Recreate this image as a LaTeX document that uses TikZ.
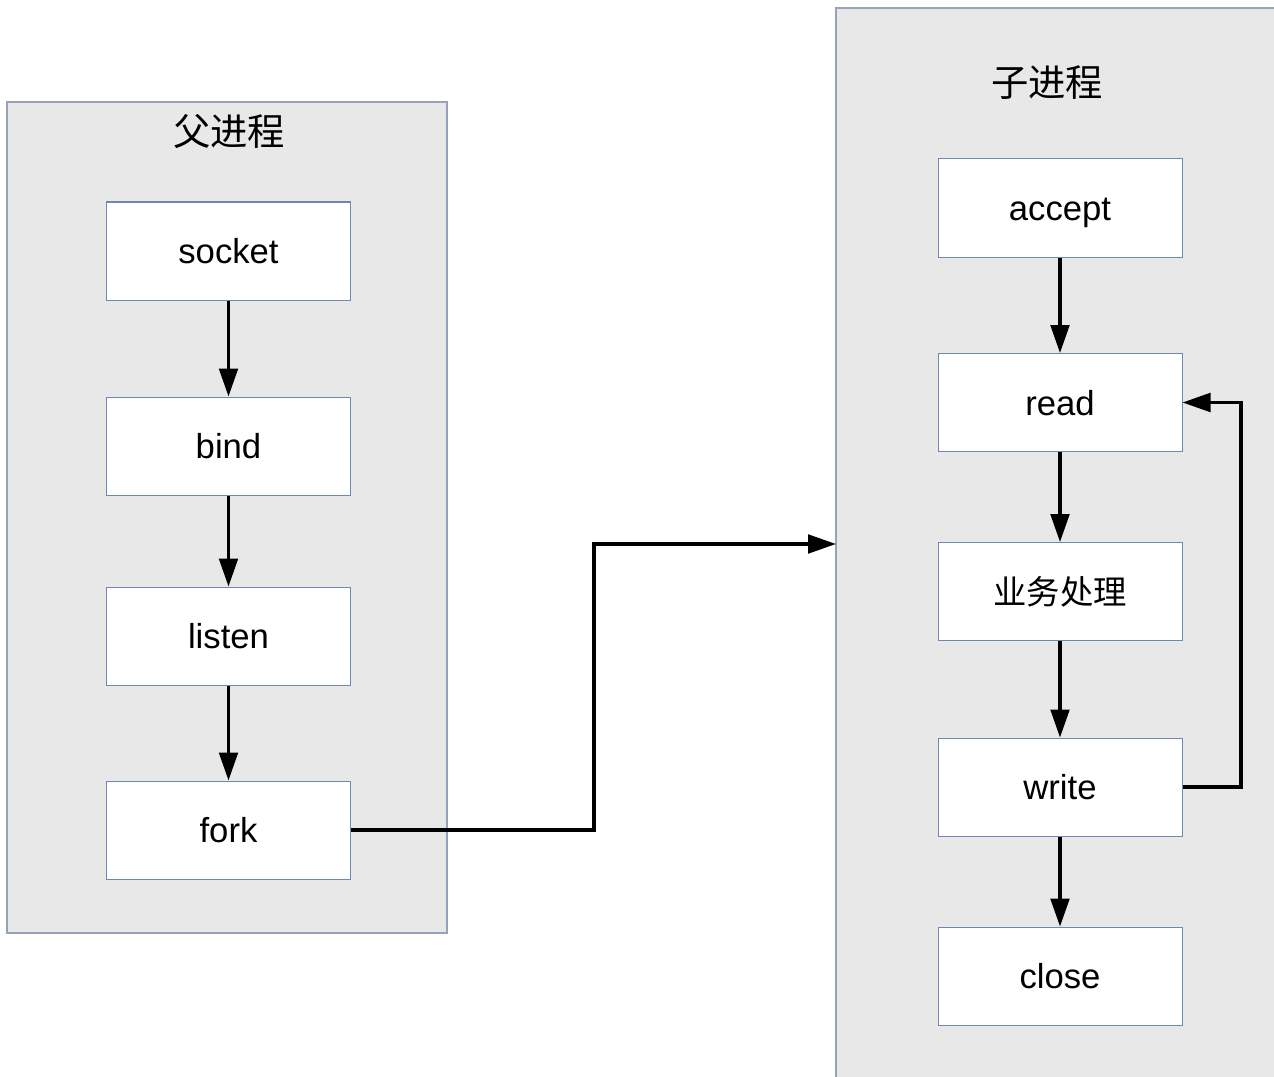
\documentclass[tikz,border=0pt]{standalone}
\usepackage{fontspec}
\setmainfont{Liberation Sans}
\newfontfamily\cjk{Noto Sans CJK SC}
\usetikzlibrary{arrows.meta}
\definecolor{panelfill}{HTML}{E8E8E8}
\definecolor{panelline}{HTML}{96A2BC}
\definecolor{boxline}{HTML}{7186B2}
\begin{document}
\begin{tikzpicture}[x=0.75pt,y=-0.75pt,
  panel/.style={draw=panelline,fill=panelfill,line width=0.9pt,inner sep=0pt},
  stepbox/.style={draw=boxline,fill=white,line width=0.75pt,minimum width=183pt,minimum height=73.5pt,inner sep=0pt,text height=19pt,text depth=0pt,font=\fontsize{26}{31}\selectfont},
  title/.style={font=\cjk\fontsize{28}{34}\selectfont,inner sep=0pt},
  flow/.style={line width=2.4pt,-{Triangle[length=21pt,width=14pt]}}]
\useasboundingbox (0,0) rectangle (1274,1077);
\clip (0,0) rectangle (1274,1077);
\fill[white] (0,0) rectangle (1274,1077);
% panels
\node[panel,minimum width=330pt,minimum height=623.25pt] (parent) at (227,517.5) {};
\node[panel,minimum width=340.5pt,minimum height=815.25pt] (child) at (1063,551.5) {};
\node[title] (ptitle) at (229,132) {父进程};
\node[title] (ctitle) at (1047,83) {子进程};
% parent steps
\node[stepbox] (socket) at (228.5,251) {socket};
\node[stepbox] (bind) at (228.5,446) {bind};
\node[stepbox] (listen) at (228.5,636) {listen};
\node[stepbox] (fork) at (228.5,830) {fork};
% child steps
\node[stepbox] (accept) at (1060,208) {accept};
\node[stepbox] (read) at (1060,402.5) {read};
\node[stepbox,font=\cjk\fontsize{25}{30}\selectfont] (work) at (1060,591.5) {业务处理};
\node[stepbox] (write) at (1060,787) {write};
\node[stepbox] (close) at (1060,976) {close};
\coordinate (entry) at (836,544);
\coordinate (bendA) at (594,830);
\coordinate (bendB) at (594,544);
\coordinate (loopA) at (1241,787);
\coordinate (loopB) at (1241,402.5);
% connectors
\draw[flow] (socket) -- (bind);
\draw[flow] (bind) -- (listen);
\draw[flow] (listen) -- (fork);
\draw[flow] (accept) -- (read);
\draw[flow] (read) -- (work);
\draw[flow] (work) -- (write);
\draw[flow] (write) -- (close);
\draw[flow] (fork.east) -- (bendA) -- (bendB) -- (entry);
\draw[flow] (write.east) -- (loopA) -- (loopB) -- (read.east);
\end{tikzpicture}
\end{document}
